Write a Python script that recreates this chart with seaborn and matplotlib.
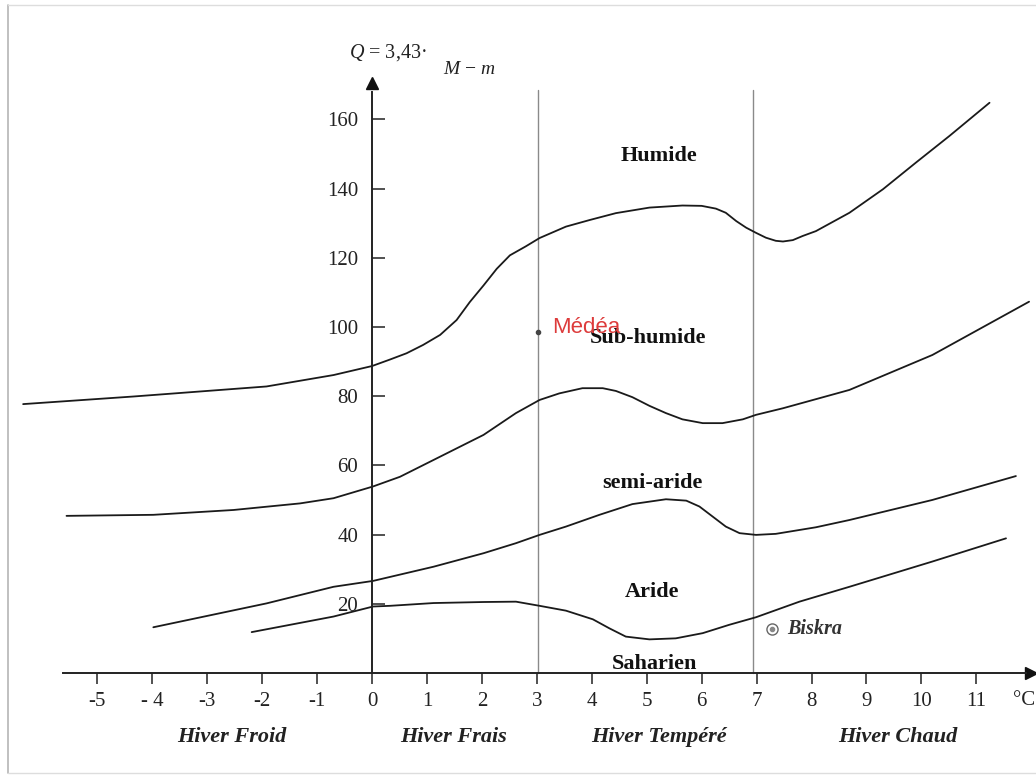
import matplotlib
matplotlib.use("Agg")
import matplotlib.pyplot as plt
import seaborn as sns
import pandas as pd
from matplotlib.lines import Line2D

# ---- data ----
t_humide = [-6.35, -4.34, -1.92, -0.70, 0.0, 0.33, 0.63, 0.93, 1.24, 1.54, 1.78, 2.03, 2.27, 2.51,
            2.80, 3.05, 3.53, 3.96, 4.44, 5.05, 5.65, 6.0, 6.26, 6.44, 6.63, 6.81, 6.99, 7.17,
            7.35, 7.48, 7.66, 7.84, 8.08, 8.69, 9.30, 9.90, 10.51, 11.24]
q_humide = [77.7, 79.9, 82.8, 86.1, 88.7, 90.6, 92.4, 94.8, 97.7, 102.0, 107.2, 112.0, 116.8, 120.7,
            123.3, 125.7, 129.0, 130.9, 132.9, 134.5, 135.1, 135.0, 134.2, 133.0, 130.6, 128.7, 127.2, 125.8,
            124.9, 124.7, 125.1, 126.3, 127.7, 133.0, 139.8, 147.5, 155.2, 164.8]

t_subhum = [-5.56, -3.98, -2.52, -1.31, -0.70, 0.02, 0.51, 1.0, 1.54, 2.03, 2.62, 3.05, 3.41, 3.83,
            4.20, 4.44, 4.74, 5.05, 5.35, 5.65, 6.02, 6.38, 6.75, 6.99, 7.48, 8.69, 10.2, 11.96]
q_subhum = [45.4, 45.7, 47.1, 49.0, 50.5, 53.9, 56.7, 60.6, 64.9, 68.8, 75.1, 78.9, 80.8, 82.3,
            82.3, 81.5, 79.7, 77.2, 75.1, 73.3, 72.2, 72.2, 73.3, 74.6, 76.5, 81.8, 91.9, 107.3]

t_semiar = [-3.98, -1.92, -0.70, 0.02, 1.12, 2.03, 2.62, 3.05, 3.53, 4.14, 4.74, 5.35, 5.72, 5.96,
            6.20, 6.44, 6.69, 6.99, 7.35, 8.08, 8.69, 10.2, 11.72]
q_semiar = [13.2, 20.1, 24.9, 26.6, 30.7, 34.6, 37.5, 39.9, 42.3, 45.7, 48.8, 50.2, 49.8, 48.1,
            45.2, 42.3, 40.4, 39.9, 40.2, 42.1, 44.2, 50.0, 56.9]

t_aride = [-2.19, -0.70, 0.02, 0.33, 1.12, 2.03, 2.62, 3.05, 3.53, 4.02, 4.32, 4.62, 5.05, 5.53,
           6.02, 6.50, 6.99, 7.78, 8.69, 10.2, 11.54]
q_aride = [11.8, 16.3, 19.2, 19.4, 20.2, 20.5, 20.6, 19.4, 18.0, 15.5, 12.9, 10.5, 9.7, 10.0,
           11.5, 13.9, 16.1, 20.6, 24.9, 32.2, 38.9]

winter_limits = [3.03, 6.93]

x_ticks = [-5, -4, -3, -2, -1, 0, 1, 2, 3, 4, 5, 6, 7, 8, 9, 10, 11]
x_tick_labels = ["-5", "- 4", "-3", "-2", "-1", "0", "1", "2", "3", "4", "5", "6", "7", "8", "9", "10", "11"]
y_ticks = [20, 40, 60, 80, 100, 120, 140, 160]

zone_names = ["Humide", "Sub-humide", "semi-aride", "Aride", "Saharien"]
zone_t = [5.22, 5.02, 5.10, 5.10, 5.15]
zone_q = [149.4, 96.8, 54.9, 23.4, 2.6]

winter_names = ["Hiver Froid", "Hiver Frais", "Hiver Tempéré", "Hiver Chaud"]
winter_t = [-2.55, 1.49, 5.22, 9.57]

station_medea = (3.03, 98.5)
station_biskra = (7.28, 12.7)

# ---- build table ----
frames = []
for name, t, q in [("humide", t_humide, q_humide), ("subhum", t_subhum, q_subhum),
                   ("semiar", t_semiar, q_semiar), ("aride", t_aride, q_aride)]:
    frames.append(pd.DataFrame({"m": t, "Q": q, "limite": name}))
df = pd.concat(frames, ignore_index=True)

sns.set_theme(style="white")
plt.rcParams["font.family"] = ["Liberation Serif", "DejaVu Serif"]
plt.rcParams["mathtext.fontset"] = "custom"
plt.rcParams["mathtext.it"] = "Liberation Serif:italic"
plt.rcParams["mathtext.rm"] = "Liberation Serif"

fig = plt.figure(figsize=(10.36, 7.75), dpi=100)
ax = fig.add_axes([0, 0, 1, 1])
ax.set_xlim(-6.771, 12.086)
ax.set_ylim(-29.5, 194.5)
ax.patch.set_alpha(0)

sns.lineplot(data=df, x="m", y="Q", units="limite", estimator=None, sort=False,
             color="#1a1a1a", lw=1.3, ax=ax, legend=False)
for ln in ax.lines:
    ln.set_solid_joinstyle("round")
    ln.set_solid_capstyle("round")

for x in winter_limits:
    ax.plot([x, x], [0, 168.5], color="#8a8a8a", lw=1.0, zorder=1)

# axes through origin
for s in ["top", "right"]:
    ax.spines[s].set_visible(False)
ax.spines["left"].set_position(("data", 0))
ax.spines["bottom"].set_position(("data", 0))
ax.spines["left"].set_bounds(0, 168)
ax.spines["bottom"].set_bounds(-5.62, 11.9)
for s in ["left", "bottom"]:
    ax.spines[s].set_color("#222222")
    ax.spines[s].set_linewidth(1.4)
    ax.spines[s].set_visible(True)
ax.plot([0], [170.5], marker="^", ms=9, color="#111111", clip_on=False)
ax.plot([12.0], [0], marker=">", ms=9, color="#111111", clip_on=False)

ax.set_xticks(x_ticks)
ax.set_xticklabels(x_tick_labels)
ax.set_yticks(y_ticks)
ax.tick_params(axis="x", direction="out", length=8, width=1.2, color="#333333",
               labelsize=15, pad=6, labelcolor="#222222", bottom=True)
ax.tick_params(axis="y", direction="in", length=9, width=1.2, color="#333333",
               labelsize=15, pad=10, labelcolor="#222222", left=True)
ax.set_xlabel("")
ax.set_ylabel("")
ax.grid(False)

ax.text(11.87, -8.0, "°C", ha="center", va="center", fontsize=15, color="#222222")

# zone labels
for name, t, q in zip(zone_names, zone_t, zone_q):
    ax.text(t, q, name, ha="center", va="center", fontsize=16, fontweight="bold", color="#111111")

# winter labels
for name, t in zip(winter_names, winter_t):
    ax.text(t, -18.5, name, ha="center", va="center", fontsize=16, fontweight="bold",
            fontstyle="italic", color="#222222")

# formula
ax.text(-0.42, 179.2, "$Q$ = 3,43·", ha="left", va="center", fontsize=14.5, color="#222222")
ax.text(1.29, 174.3, "$M$ − $m$", ha="left", va="center", fontsize=14, color="#222222")

# stations
ax.plot([station_medea[0]], [station_medea[1]], marker="o", ms=3, color="#444444")
ax.text(station_medea[0] + 0.25, station_medea[1] + 1.2, "Médéa", ha="left", va="center",
        fontsize=16, color="#dd3b3b", family=["Liberation Sans", "DejaVu Sans"])
ax.plot([station_biskra[0]], [station_biskra[1]], marker="o", ms=8, mfc="none", mec="#666666", mew=1.0)
ax.plot([station_biskra[0]], [station_biskra[1]], marker="o", ms=3, color="#888888")
ax.text(station_biskra[0] + 0.27, station_biskra[1], "Biskra", ha="left", va="center",
        fontsize=14.5, fontweight="bold", fontstyle="italic", color="#333333")

# page frame
fig.add_artist(Line2D([8 / 1036, 8 / 1036], [2 / 775, 770 / 775], transform=fig.transFigure,
                      color="#b5b5b5", lw=1.2))
fig.add_artist(Line2D([8 / 1036, 1.0], [770 / 775, 770 / 775], transform=fig.transFigure,
                      color="#dddddd", lw=1.0))
fig.add_artist(Line2D([8 / 1036, 1.0], [2 / 775, 2 / 775], transform=fig.transFigure,
                      color="#dddddd", lw=1.0))

fig.savefig("out.png", dpi=100, facecolor="white")
